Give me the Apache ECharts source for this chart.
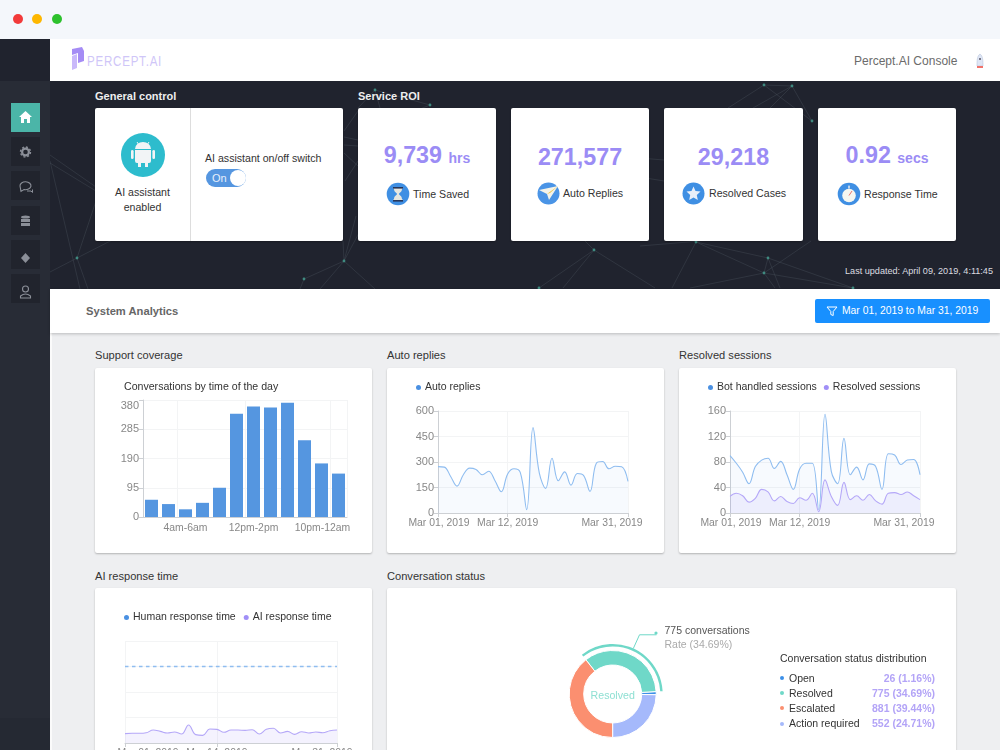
<!DOCTYPE html>
<html>
<head>
<meta charset="utf-8">
<title>Percept.AI Console</title>
<script src="https://cdn.jsdelivr.net/npm/echarts@6/dist/echarts.min.js"></script>
<style>
html, body { margin: 0; padding: 0; width: 1000px; height: 750px; overflow: hidden; background: #eeeff1; font-family: "Liberation Sans", Arial, sans-serif; color: #333; }
div, span, svg { position: absolute; box-sizing: border-box; white-space: nowrap; }
.card { background: #fff; border-radius: 2px; box-shadow: 0 1px 2px rgba(0,0,0,.25); }
.sec { font-size: 11.1px; line-height: 14px; color: #333; }
.dark-sec { font-size: 11px; line-height: 14px; font-weight: bold; color: #eee; }
.side { left: 11px; width: 29px; height: 29px; background: #21242d; }
.num { font-size: 23.3px; line-height: 28px; font-weight: bold; color: #9b8cf5; text-align: center; left: 0; width: 100%; }
.num small { font-size: 14px; font-weight: bold; }
.lbl { font-size: 10.6px; line-height: 14px; color: #333; }
.row { left: 780px; width: 155px; height: 15px; font-size: 10.5px; line-height: 15px; }
.row i { position: absolute; left: 0; top: 5.5px; width: 4px; height: 4px; border-radius: 50%; }
.row b { position: absolute; left: 9px; font-weight: normal; color: #333; }
.row em { position: absolute; right: 0; font-style: normal; font-weight: bold; color: #b3a4f7; }
</style>
</head>
<body>
<!-- window bar -->
<div style="left:0;top:0;width:1000px;height:39px;background:#f4f7fb"></div>
<div style="left:13px;top:14px;width:10px;height:10px;border-radius:50%;background:#f23a3a"></div>
<div style="left:32px;top:14px;width:10px;height:10px;border-radius:50%;background:#fdb700"></div>
<div style="left:52px;top:14px;width:10px;height:10px;border-radius:50%;background:#2dc12d"></div>

<!-- header -->
<div style="left:50px;top:39px;width:950px;height:42px;background:#fff"></div>
<svg style="left:70px;top:46px" width="16" height="26"><path d="M2 3 L12 1 L14 5 L14 15 L8 17 L8 7 L2 9Z" fill="#a58cf5"/><path d="M2 10 L7 8 L7 22 L2 24Z" fill="#c9b8fa"/></svg>
<span style="left:87px;top:52px;font-size:15px;line-height:18px;letter-spacing:1px;color:#cfc6f8;transform:scaleX(.77);transform-origin:left center">PERCEPT.AI</span>
<span style="left:854px;top:53px;font-size:12px;line-height:16px;color:#6b6b6b">Percept.AI Console</span>
<svg style="left:974px;top:53px" width="12" height="16"><path d="M6 1 C9 3 9 8 9 13 L3 13 C3 8 3 3 6 1Z" fill="#dfe6f5" stroke="#b9c4dc" stroke-width=".6"/><circle cx="6" cy="6" r="1" fill="#556"/><rect x="3" y="13" width="6" height="2" fill="#f0726a"/></svg>

<!-- dark band with network -->
<div style="left:50px;top:81px;width:950px;height:208px;background:#20232e"></div>
<svg id="net" style="left:50px;top:81px" width="950" height="208"></svg>

<!-- sidebar -->
<div style="left:0;top:39px;width:50px;height:42px;background:#20232e"></div>
<div style="left:0;top:81px;width:50px;height:637px;background:#282c36"></div>
<div style="left:0;top:718px;width:50px;height:32px;background:#252933"></div>
<div style="left:50px;top:289px;width:2px;height:461px;background:#fbfbfb"></div>
<div class="side" style="top:103px;background:#4bb5a8"></div>
<div class="side" style="top:137px"></div>
<div class="side" style="top:171px"></div>
<div class="side" style="top:206px"></div>
<div class="side" style="top:240px"></div>
<div class="side" style="top:274px"></div>
<svg style="left:11px;top:103px" width="29" height="200">
  <path d="M14.5 8 L21 14 L19 14 L19 20 L16 20 L16 16 L13 16 L13 20 L10 20 L10 14 L8 14Z" fill="#fff"/>
  <circle cx="14.5" cy="49" r="3.4" fill="none" stroke="#8b8f98" stroke-width="2.2"/>
  <circle cx="14.5" cy="49" r="5" fill="none" stroke="#8b8f98" stroke-width="1.4" stroke-dasharray="2 1.9"/>
  <path d="M9 83 a5.5 4 0 1 1 4 3.6 l-3 1.8z" fill="none" stroke="#8b8f98" stroke-width="1.1"/>
  <path d="M16 88 h4 l1.5 1.5 v-3" fill="none" stroke="#8b8f98" stroke-width="1"/>
  <ellipse cx="14.5" cy="114" rx="4.5" ry="1.6" fill="#8b8f98"/><rect x="10" y="116" width="9" height="3" fill="#8b8f98"/><rect x="10" y="120" width="9" height="3" fill="#8b8f98"/>
  <path d="M14.5 150 L19 155 L14.5 160 L10 155Z" fill="#8b8f98"/>
  <circle cx="14.5" cy="186" r="3" fill="none" stroke="#8b8f98" stroke-width="1.1"/><path d="M9.5 195 v-2 q5 -4 10 0 v2z" fill="none" stroke="#8b8f98" stroke-width="1.1"/>
</svg>

<span class="dark-sec" style="left:95px;top:89px">General control</span>
<span class="dark-sec" style="left:358px;top:89px">Service ROI</span>

<!-- general control -->
<div class="card" style="left:95px;top:108px;width:248px;height:133px"></div>
<div style="left:190px;top:108px;width:1px;height:133px;background:#ddd"></div>
<svg style="left:121px;top:133px" width="44" height="44"><circle cx="22" cy="22" r="22" fill="#2dbccd"/><path d="M14 16 a8 7 0 0 1 16 0z M14 17 h16 v11 q0 2 -2 2 h-1 v4 h-3 v-4 h-4 v4 h-3 v-4 h-1 q-2 0 -2 -2z" fill="#f2f4f6"/><rect x="10" y="17" width="2.6" height="9" rx="1.3" fill="#f2f4f6"/><rect x="31.4" y="17" width="2.6" height="9" rx="1.3" fill="#f2f4f6"/><path d="M16 9 l2 3 M28 9 l-2 3" stroke="#f2f4f6" stroke-width="1"/></svg>
<span class="lbl" style="left:95px;width:95px;top:185px;text-align:center">AI assistant</span>
<span class="lbl" style="left:95px;width:95px;top:200px;text-align:center">enabled</span>
<span class="lbl" style="left:205px;top:151px">AI assistant on/off switch</span>
<div style="left:206px;top:169px;width:40px;height:18px;border-radius:9px;background:#5596e0"></div>
<div style="left:230px;top:170px;width:16px;height:16px;border-radius:50%;background:#fff"></div>
<span style="left:212px;top:171px;font-size:11px;line-height:14px;color:#e8f0fb">On</span>

<!-- ROI cards -->
<div class="card" style="left:358px;top:108px;width:138px;height:133px"><div class="num" style="top:33px">9,739 <small>hrs</small></div></div>
<div class="card" style="left:511px;top:108px;width:138px;height:133px"><div class="num" style="top:35px">271,577</div></div>
<div class="card" style="left:664px;top:108px;width:139px;height:133px"><div class="num" style="top:35px">29,218</div></div>
<div class="card" style="left:818px;top:108px;width:138px;height:133px"><div class="num" style="top:33px">0.92 <small>secs</small></div></div>

<svg style="left:386px;top:182px" width="24" height="24"><circle cx="12" cy="12" r="11.3" fill="#3f8fe3"/><path d="M7 6 h10 l-1 1 c0 3 -3 4 -3 5 c0 1 3 2 3 5 l1 1 h-10 l1 -1 c0 -3 3 -4 3 -5 c0 -1 -3 -2 -3 -5z" fill="#e7e6df"/><rect x="7" y="5" width="10" height="1.6" fill="#26365a"/><rect x="7" y="18" width="10" height="1.6" fill="#26365a"/></svg>
<svg style="left:537px;top:182px" width="23" height="23"><circle cx="11.5" cy="11.5" r="11" fill="#4a94e6"/><path d="M2 8 L21 4 L12 18 L10 12Z" fill="#f3f3ea"/><path d="M10 12 L21 4 L13 11Z" fill="#f2c43b"/></svg>
<svg style="left:682px;top:182px" width="23" height="23"><circle cx="11.5" cy="11.5" r="11" fill="#3f8fe3"/><path d="M11.5 4.5 L13.5 9 L18.5 9.6 L14.8 13 L15.8 18 L11.5 15.5 L7.2 18 L8.2 13 L4.5 9.6 L9.5 9Z" fill="#e9eff9"/></svg>
<svg style="left:837px;top:182px" width="24" height="24"><circle cx="12" cy="12" r="11.3" fill="#3f8fe3"/><circle cx="12" cy="13.5" r="6.8" fill="#f5f6f0"/><rect x="11" y="3.6" width="2" height="3" fill="#bcd4ef"/><path d="M12 13.5 L15 9" stroke="#e8736b" stroke-width="1"/></svg>
<span class="lbl" style="left:413px;top:187px">Time Saved</span>
<span class="lbl" style="left:563px;top:186px">Auto Replies</span>
<span class="lbl" style="left:709px;top:186px">Resolved Cases</span>
<span class="lbl" style="left:864px;top:187px">Response Time</span>
<span style="right:7px;top:265px;font-size:9.1px;line-height:13px;color:#dcdde0">Last updated: April 09, 2019, 4:11:45</span>

<!-- analytics strip -->
<div style="left:50px;top:289px;width:950px;height:44px;background:#fff;box-shadow:0 1px 3px rgba(0,0,0,.22)"></div>
<span style="left:86px;top:304px;font-size:11.2px;line-height:14px;font-weight:bold;color:#666">System Analytics</span>
<div style="left:815px;top:299px;width:175px;height:24px;background:#1890ff;border-radius:2px"></div>
<svg style="left:826px;top:305px" width="12" height="12"><path d="M1 2 H11 L7.2 6.5 V10.5 L4.8 9.5 V6.5Z" fill="none" stroke="#fff" stroke-width="1"/></svg>
<span style="left:842px;top:304px;font-size:10.35px;line-height:14px;color:#fff">Mar 01, 2019 to Mar 31, 2019</span>

<!-- charts -->
<span class="sec" style="left:95px;top:348px">Support coverage</span>
<span class="sec" style="left:387px;top:348px">Auto replies</span>
<span class="sec" style="left:679px;top:348px">Resolved sessions</span>
<span class="sec" style="left:95px;top:569px">AI response time</span>
<span class="sec" style="left:387px;top:569px">Conversation status</span>
<div class="card" id="c1" style="left:95px;top:368px;width:277px;height:185px"></div>
<div class="card" id="c2" style="left:387px;top:368px;width:277px;height:185px"></div>
<div class="card" id="c3" style="left:679px;top:368px;width:277px;height:185px"></div>
<div class="card" id="c4" style="left:95px;top:588px;width:277px;height:172px"></div>
<div class="card" id="c5" style="left:387px;top:588px;width:569px;height:172px"></div>
<div id="statusTable"></div>

<script>
// bar chart
const hourCategories = ['12am-2am','2am-4am','4am-6am','6am-8am','8am-10am','10am-12pm','12pm-2pm','2pm-4pm','4pm-6pm','6pm-8pm','8pm-10pm','10pm-12am'];
const hourValues = [56,42,25,46,95,335,359,356,371,249,174,141];

// line charts, one point per day of March
const dayLabels = ['Mar 01, 2019','Mar 02, 2019','Mar 03, 2019','Mar 04, 2019','Mar 05, 2019','Mar 06, 2019','Mar 07, 2019','Mar 08, 2019','Mar 09, 2019','Mar 10, 2019','Mar 11, 2019','Mar 12, 2019','Mar 13, 2019','Mar 14, 2019','Mar 15, 2019','Mar 16, 2019','Mar 17, 2019','Mar 18, 2019','Mar 19, 2019','Mar 20, 2019','Mar 21, 2019','Mar 22, 2019','Mar 23, 2019','Mar 24, 2019','Mar 25, 2019','Mar 26, 2019','Mar 27, 2019','Mar 28, 2019','Mar 29, 2019','Mar 30, 2019','Mar 31, 2019'];
const autoReplies = [273,270,215,158,225,264,256,225,246,190,125,230,260,238,20,502,235,145,322,190,242,164,232,220,127,293,303,260,275,272,186];
const botSessions = [90,78,64,46,73,83,86,70,81,60,37,69,78,78,5,155,65,46,117,60,72,52,77,73,37,93,91,76,83,84,60];
const resolvedSessions = [26,31,27,17,23,37,33,19,26,18,15,24,20,31,2,52,26,12,48,21,27,20,29,19,14,31,32,29,33,27,21];
const humanResponse = [7.5,7.5,7.5,7.5,7.5,7.5,7.5,7.5,7.5,7.5,7.5,7.5,7.5,7.5,7.5,7.5,7.5,7.5,7.5,7.5,7.5,7.5,7.5,7.5,7.5,7.5,7.5,7.5,7.5,7.5,7.5];
const aiResponse = [0.92,0.95,0.95,1.0,1.27,1.14,0.98,1.08,0.88,1.76,0.82,0.75,1.37,1.34,1.05,1.27,1.27,1.24,1.3,0.88,1.34,1.44,0.98,1.14,0.85,1.11,0.98,1.08,1.0,1.2,1.27];

// donut and table
const statusNames = ['Open','Resolved','Escalated','Action required'];
const statusValues = [26,775,881,552];
const statusRates = ['1.16%','34.69%','39.44%','24.71%'];
const statusColors = ['#3c8fe8','#6fd8c8','#fb8f70','#a5b9fb'];

// background network, decoration only
const netLines = [[27,177,70,155],[27,177,38,208],[27,177,0,191],[27,177,46,120],[0,74,46,106],[0,82,46,110],[0,80,30,208],[254,198,294,180],[254,198,250,208],[294,180,293,160],[294,180,310,150],[294,180,270,208],[294,180,325,208],[294,180,306,135],[294,50,308,30],[294,56,308,59],[294,64,308,65],[294,72,308,85],[295,100,308,80],[714,4,742,5],[742,5,762,40],[714,4,762,40],[714,4,678,27],[742,5,703,27],[742,5,720,27],[325,9,380,24],[325,9,308,27],[325,9,330,27],[380,24,340,40],[544,169,489,207],[544,169,513,207],[544,169,605,207],[544,169,535,160],[553,74,614,79],[553,74,599,71],[553,90,614,100],[646,161,622,207],[646,161,718,177],[646,161,714,192],[718,177,714,192],[718,177,730,207],[714,192,640,207],[714,192,803,207],[714,192,725,207],[718,177,803,207],[470,40,461,66],[650,160,590,165],[461,40,470,65],[761,160,714,192]];
const netDots = [[27,177],[254,198],[294,180],[714,4],[742,5],[762,40],[544,169],[646,161],[718,177],[714,192],[489,207],[803,207],[325,9],[380,24]];
document.getElementById('net').innerHTML =
    netLines.map(l => `<line x1="${l[0]}" y1="${l[1]}" x2="${l[2]}" y2="${l[3]}" stroke="#56606a" stroke-width=".6" opacity=".5"/>`).join('') +
    netDots.map(d => `<circle cx="${d[0]}" cy="${d[1]}" r="1.4" fill="#3f8a80"/>`).join('');

document.getElementById('statusTable').innerHTML =
    '<span style="left:780px;top:651px;font-size:10.5px;line-height:14px;color:#333">Conversation status distribution</span>' +
    statusNames.map((n, i) => `<div class="row" style="top:${670.5 + i * 15.2}px"><i style="background:${statusColors[i]}"></i><b>${n}</b><em>${statusValues[i]} (${statusRates[i]})</em></div>`).join('');

const axisGray = '#cdd0d4';
const labelGray = '#888';
const splitGray = '#f3f4f5';
const font = 'Liberation Sans';
const keyDays = [0, 11, 30];

// the first and last x labels sit shifted from their ticks in the original
function shiftedLabels(ticks, firstPad, lastPad, margin) {
    return {
        color: labelGray, fontSize: 10.4, margin: margin, hideOverlap: false,
        interval: i => ticks.includes(i),
        formatter: (v, i) => i === 0 ? `{first|${v}}` : i === ticks[ticks.length - 1] ? `{last|${v}}` : v,
        rich: {
            first: { color: labelGray, fontSize: 10.4, padding: [0, 0, 0, firstPad] },
            last: { color: labelGray, fontSize: 10.4, padding: [0, lastPad, 0, 0] }
        }
    };
}

function legendFor(left, top, gap, list) {
    return { left: left, top: top, itemWidth: 5, itemHeight: 5, itemGap: gap, icon: 'circle',
        textStyle: { fontSize: 10.5, color: '#333', fontFamily: font, padding: [0, 0, 0, -1] }, data: list };
}

function lineOption(gridBox, yMax, yStep, legend, series, splitDays, hideY, labels) {
    return {
        animation: false,
        textStyle: { fontFamily: font },
        legend: legend,
        grid: Object.assign({ outerBoundsMode: 'none' }, gridBox),
        xAxis: {
            type: 'category', boundaryGap: false, data: dayLabels,
            axisLine: { lineStyle: { color: axisGray } },
            axisTick: { length: 4, alignWithLabel: true, interval: i => splitDays.includes(i), lineStyle: { color: axisGray } },
            axisLabel: labels,
            splitLine: { show: true, interval: i => splitDays.includes(i), lineStyle: { color: splitGray } }
        },
        yAxis: {
            type: 'value', min: 0, max: yMax, interval: yStep,
            axisLine: { show: !hideY, lineStyle: { color: axisGray } },
            axisTick: { show: !hideY, length: 4, lineStyle: { color: axisGray } },
            axisLabel: { show: !hideY, color: labelGray, fontSize: 11, margin: 4 },
            splitLine: { lineStyle: { color: splitGray } }
        },
        series: series
    };
}

function areaLine(name, values, color, fill) {
    return { name: name, type: 'line', data: values, smooth: 0.4, symbol: 'none',
        itemStyle: { color: color }, lineStyle: { color: color, width: 1.1 },
        areaStyle: { color: fill } };
}

const blueLine = '#8fbdf0', purpleLine = '#b5a8f8';
const blueFill = 'rgba(90,160,240,.07)', purpleFill = 'rgba(130,110,245,.13)';
const blueDot = '#4a90e2', purpleDot = '#a08ff7';

// Support coverage
const hourTicks = [2, 6, 11];
const hourLabels = shiftedLabels(hourTicks, 0, 32, 6);
echarts.init(document.getElementById('c1')).setOption({
    animation: false,
    textStyle: { fontFamily: font },
    title: { text: 'Conversations by time of the day', left: 24, top: 9, textStyle: { fontSize: 10.6, fontWeight: 'normal', color: '#333', fontFamily: font } },
    grid: { left: 48, right: 25, top: 32, bottom: 36, outerBoundsMode: 'none' },
    xAxis: {
        type: 'category', data: hourCategories,
        axisLine: { lineStyle: { color: axisGray } },
        axisTick: { length: 4, alignWithLabel: true, interval: i => hourTicks.includes(i), lineStyle: { color: axisGray } },
        axisLabel: hourLabels,
        splitLine: { show: true, interval: i => hourTicks.includes(i), lineStyle: { color: splitGray } }
    },
    yAxis: {
        type: 'value', min: 0, max: 380, interval: 95,
        axisLine: { show: true, lineStyle: { color: axisGray } },
        axisTick: { show: true, length: 4, lineStyle: { color: axisGray } },
        axisLabel: { color: labelGray, fontSize: 11, margin: 4, verticalAlignMaxLabel: 'top' },
        splitLine: { lineStyle: { color: splitGray } }
    },
    series: [{ type: 'bar', data: hourValues, barWidth: 13, itemStyle: { color: '#5596e0' } }]
});

// Auto replies
echarts.init(document.getElementById('c2')).setOption(lineOption(
    { left: 51, right: 36, top: 43, bottom: 40 }, 600, 150,
    legendFor(24, 9, 10, [{ name: 'Auto replies', itemStyle: { color: blueDot } }]),
    [areaLine('Auto replies', autoReplies, blueLine, blueFill)], keyDays, false, shiftedLabels(keyDays, 2, 32, 5.5)));

// Resolved sessions
echarts.init(document.getElementById('c3')).setOption(lineOption(
    { left: 51, right: 36, top: 43, bottom: 40 }, 160, 40,
    legendFor(24, 9, 7, [{ name: 'Bot handled sessions', itemStyle: { color: blueDot } }, { name: 'Resolved sessions', itemStyle: { color: purpleDot } }]),
    [areaLine('Bot handled sessions', botSessions, blueLine, blueFill),
     areaLine('Resolved sessions', resolvedSessions, purpleLine, purpleFill)], keyDays, false, shiftedLabels(keyDays, 2, 32, 5.5)));

// AI response time, axis sits at the bottom edge of the window
const humanSeries = areaLine('Human response time', humanResponse, blueLine, 'transparent');
humanSeries.lineStyle.type = [3.5, 3.5];
humanSeries.lineStyle.width = 1.3;
const aiTicks = [0, 13, 30];
echarts.init(document.getElementById('c4')).setOption(lineOption(
    { left: 30, right: 35, top: 53, bottom: 17 }, 10, 2.5,
    legendFor(24, 19, 8, [{ name: 'Human response time', itemStyle: { color: blueDot } }, { name: 'AI response time', itemStyle: { color: purpleDot } }]),
    [humanSeries, areaLine('AI response time', aiResponse, purpleLine, purpleFill)], aiTicks, true, shiftedLabels(aiTicks, 46, 30, 5)));

// Conversation status
const ringData = statusNames.map((n, i) => ({ name: n, value: statusValues[i], itemStyle: { color: statusColors[i], borderColor: '#fff', borderWidth: 1 } }));
const arcData = statusNames.map((n, i) => n === 'Resolved'
    ? { name: n, value: statusValues[i], itemStyle: { color: statusColors[i] },
        label: { show: true, formatter: `{a|${statusValues[i]} conversations}\n{b|Rate (${statusRates[i]})}` },
        labelLine: { show: true, length: 15, length2: 17, smooth: false, lineStyle: { color: statusColors[i], width: 1 } } }
    : { name: n, value: statusValues[i], itemStyle: { color: 'transparent' }, label: { show: false }, labelLine: { show: false } });
echarts.init(document.getElementById('c5')).setOption({
    animation: false,
    textStyle: { fontFamily: font },
    title: { text: 'Resolved', left: 220.7, top: 98, textAlign: 'center', textStyle: { fontSize: 10.6, fontWeight: 'normal', color: '#8fe0d3', fontFamily: font } },
    graphic: [{ type: 'circle', shape: { cx: 269, cy: 45, r: 1.6 }, style: { fill: statusColors[1] } }],
    series: [
        { type: 'pie', center: [225.7, 106], radius: [29, 43.5], startAngle: -1, clockwise: false, silent: true, label: { show: false }, data: ringData },
        { type: 'pie', center: [225.7, 106], radius: [47.6, 50], startAngle: -1, clockwise: false, silent: true, avoidLabelOverlap: false,
          label: { position: 'outside', distanceToLabelLine: 8, lineHeight: 14, padding: [7, 0, 0, 0], rich: { a: { fontSize: 10.5, color: '#555', lineHeight: 14, fontFamily: font }, b: { fontSize: 10.5, color: '#aaa', lineHeight: 14, fontFamily: font } } },
          data: arcData }
    ]
});
</script>
</body>
</html>
